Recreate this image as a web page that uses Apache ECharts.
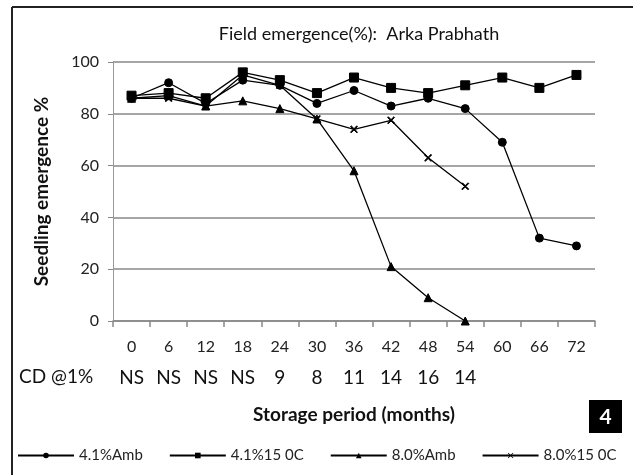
<!DOCTYPE html>
<html><head><meta charset="utf-8">
<script src="https://cdn.jsdelivr.net/npm/echarts@6/dist/echarts.min.js"></script>
<style>html,body{margin:0;padding:0;background:#fff}#c{width:633px;height:475px}</style>
</head><body><div id="c"></div>
<script>
var months = ['0','6','12','18','24','30','36','42','48','54','60','66','72'];
var cdLabels = ['NS','NS','NS','NS','9','8','11','14','16','14','','',''];
var amb41 = [86, 92, 84, 93, 91, 84, 89, 83, 86, 82, 69, 32, 29];
var c15_41 = [87, 88, 86, 96, 93, 88, 94, 90, 88, 91, 94, 90, 95];
var amb80 = [86, 87, 83, 85, 82, 78, 58, 21, 9, 0];
var c15_80 = [86, 86, 83, 95, 91, 78, 74, 77.5, 63, 52];
var seriesNames = ['4.1%Amb', '4.1%15 0C', '8.0%Amb', '8.0%15 0C'];
var yTicks = [0, 20, 40, 60, 80, 100];

var F = 'Lato, "Open Sans", sans-serif';
var xMark = 'path://M0,1L1,0L5,4L9,0L10,1L6,5L10,9L9,10L5,6L1,10L0,9L4,5Z';
function mk(name, data, symbol, size) {
  return {
    name: name, type: 'line', data: data, symbol: symbol, symbolSize: size,
    xAxisIndex: 0,
    lineStyle: {color: '#000', width: 1.3},
    itemStyle: {color: '#000', borderColor: '#000'},
    emphasis: {disabled: true}, animation: false
  };
}
var chart = echarts.init(document.getElementById('c'));
chart.setOption({
  animation: false,
  backgroundColor: '#fff',
  title: {
    text: 'Field emergence(%):  Arka Prabhath', left: 354, top: 20, textAlign: 'center',
    textStyle: {fontFamily: F, fontSize: 18, fontWeight: 'normal', color: '#111'}
  },
  grid: {left: 113, right: 38, top: 62, bottom: 154},
  xAxis: [{
    type: 'category', data: months, boundaryGap: true,
    axisLine: {lineStyle: {color: '#888', width: 1.5}},
    axisTick: {show: true, length: 6, alignWithLabel: false, lineStyle: {color: '#888', width: 1.5}},
    axisLabel: {fontFamily: F, fontSize: 16, color: '#222', margin: 18, interval: 0},
    splitLine: {show: false}
  }, {
    type: 'category', data: cdLabels, position: 'bottom', offset: 30, boundaryGap: true,
    axisLine: {show: false}, axisTick: {show: false},
    axisLabel: {fontFamily: F, fontSize: 19, color: '#111', margin: 17, interval: 0},
    name: 'Storage period (months)', nameLocation: 'middle', nameGap: 54,
    nameTextStyle: {fontFamily: F, fontSize: 19, fontWeight: 'bold', color: '#111'}
  }],
  yAxis: {
    type: 'value', min: 0, max: 100, interval: 20,
    name: 'Seedling emergence %', nameLocation: 'middle', nameGap: 62, nameRotate: 90,
    nameTextStyle: {fontFamily: F, fontSize: 19, fontWeight: 'bold', color: '#111'},
    axisLine: {show: true, lineStyle: {color: '#999', width: 1}},
    axisTick: {show: true, length: 5, lineStyle: {color: '#888'}},
    axisLabel: {fontFamily: F, fontSize: 16, color: '#222', margin: 14,
      formatter: function (v) { return yTicks.indexOf(v) >= 0 ? String(v) : ''; }},
    splitLine: {lineStyle: {color: '#888', width: 1.5}}
  },
  legend: {
    data: seriesNames, left: 12, top: 443, width: 621, padding: [5, 0, 5, 5],
    itemWidth: 56, itemHeight: 7, itemGap: 26,
    textStyle: {fontFamily: F, fontSize: 15, color: '#222'}
  },
  graphic: [
    {type: 'line', shape: {x1: 12, y1: 7, x2: 633, y2: 7}, style: {stroke: '#222', lineWidth: 2}},
    {type: 'line', shape: {x1: 12, y1: 7, x2: 12, y2: 475}, style: {stroke: '#222', lineWidth: 2}},
    {type: 'text', left: 19, top: 367, style: {text: 'CD @1%', fontFamily: F, fontSize: 19, fill: '#111'}},
    {type: 'rect', shape: {x: 589, y: 400, width: 33, height: 33}, style: {fill: '#000'}},
    {type: 'text', x: 605.5, y: 417, style: {text: '4', fontFamily: F, fontSize: 21, fontWeight: 'bold', fill: '#fff', align: 'center', verticalAlign: 'middle'}}
  ],
  series: [
    mk(seriesNames[0], amb41, 'circle', 8),
    mk(seriesNames[1], c15_41, 'rect', 9),
    mk(seriesNames[2], amb80, 'triangle', 8),
    mk(seriesNames[3], c15_80, xMark, 7)
  ]
});
</script></body></html>
